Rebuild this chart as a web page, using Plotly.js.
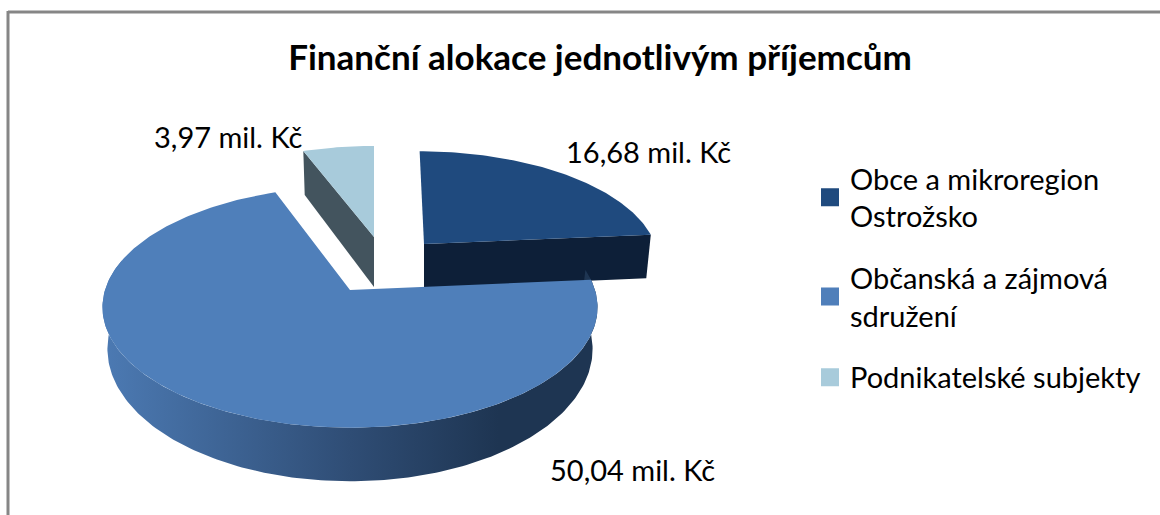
<!DOCTYPE html>
<html><head><meta charset="utf-8">
<script src="https://cdn.plot.ly/plotly-3.0.1.min.js"></script>
<style>html,body{margin:0;padding:0;background:#fff;overflow:hidden}</style>
</head><body><div id="chart" style="width:1160px;height:515px"></div>
<script>
const categories = ['Obce a mikroregion<br>Ostrožsko', 'Občanská a zájmová<br>sdružení', 'Podnikatelské subjekty'];
const values = [16.68, 50.04, 3.97];
const valueLabels = ['16,68 mil. Kč', '50,04 mil. Kč', '3,97 mil. Kč'];
const faceColors = ['#1f4a7e', '#4f7fba', '#a8cbdb'];
const FONT = 'Lato, Carlito, Calibri, sans-serif';

const total = values.reduce((a, b) => a + b, 0);
const edges = [0];
values.forEach((v, i) => edges.push(edges[i] + v / total * 360));

const K = 0.143;
const geo = [
  {cx: 424, cy: 244, rx: 231, ry: 106, shear: -5, d: 44, ryf: 1},
  {cx: 350, cy: 290, rx: 245, ry: 118, shear: 0, d: 40, ryf: 1.05},
  {cx: 374, cy: 237, rx: 232, ry: 104, shear: 0, d: 50, ryf: 1}
];
function topRim(g, deg) {
  const t = deg * Math.PI / 180, u = Math.sin(t), v = Math.cos(t), s = 1 / (1 + K * v);
  return [g.cx + g.rx * u * s + g.shear * v * s, g.cy - g.ry * v * s];
}
function bottomRim(g, deg) {
  const t = deg * Math.PI / 180, u = Math.sin(t), v = Math.cos(t), s = 1 / (1 + K * v);
  return [g.cx + g.rx * 0.98 * u * s + g.shear * v * s, g.cy - g.ry * g.ryf * v * s + g.d * s];
}
function arc(fn, g, a, b) {
  const pts = [], n = Math.max(2, Math.ceil(Math.abs(b - a)));
  for (let i = 0; i <= n; i++) pts.push(fn(g, a + (b - a) * i / n));
  return pts;
}
function poly(pts, color, extra) {
  const closed = pts.concat([pts[0]]);
  return Object.assign({
    type: 'scatter', mode: 'lines', x: closed.map(p => p[0]), y: closed.map(p => p[1]),
    fill: 'toself', fillcolor: color, line: {width: 0}, hoverinfo: 'skip', showlegend: false
  }, extra || {});
}
function face(i) {
  const g = geo[i];
  return poly([[g.cx, g.cy]].concat(arc(topRim, g, edges[i], edges[i + 1])), faceColors[i]);
}
function apexBottom(g) { return [g.cx, g.cy + g.d]; }

const traces = [];
const g0 = geo[0];
traces.push(poly([[g0.cx, g0.cy], topRim(g0, edges[1]), bottomRim(g0, edges[1]), apexBottom(g0)], '#0d1f38'));
traces.push(face(0));
const g2 = geo[2];
traces.push(poly([[g2.cx, g2.cy], topRim(g2, edges[2]), bottomRim(g2, edges[2]), apexBottom(g2)], '#43545e'));
traces.push(face(2));
const g1 = geo[1];
traces.push(poly(arc(topRim, g1, 80, 285).concat(arc(bottomRim, g1, 285, 80)), '#2f4d75', {
  fillgradient: {type: 'horizontal', colorscale: [[0, '#4c7ab3'], [0.5, '#2f4d75'], [0.8, '#1e3552'], [1, '#1e3552']]}
}));
traces.push(face(1));
categories.forEach((c, i) => traces.push({
  type: 'scatter', mode: 'markers', x: [null], y: [null], name: c, legendgroup: 'g' + i,
  marker: {symbol: 'square', size: 16, color: faceColors[i], line: {width: 2, color: faceColors[i]}}, hoverinfo: 'skip'
}));

const layout = {
  width: 1160, height: 515, margin: {l: 0, r: 0, t: 0, b: 0},
  paper_bgcolor: '#fff', plot_bgcolor: '#fff',
  title: {text: '<b>Finanční alokace jednotlivým příjemcům</b>', x: 600 / 1160, xanchor: 'center',
    y: 1 - 58 / 515, yanchor: 'middle', font: {family: FONT, size: 35, color: '#000'}},
  xaxis: {range: [0, 1160], visible: false, fixedrange: true},
  yaxis: {range: [515, 0], visible: false, fixedrange: true},
  legend: {x: 810 / 1160, xanchor: 'left', y: 1 - 153 / 515, yanchor: 'top', tracegroupgap: 21,
    font: {family: FONT, size: 29, color: '#000'}, bgcolor: 'rgba(0,0,0,0)', itemclick: false, itemdoubleclick: false},
  annotations: [
    {x: 648, y: 151, text: valueLabels[0]},
    {x: 632, y: 469, text: valueLabels[1]},
    {x: 228, y: 136, text: valueLabels[2]}
  ].map(a => Object.assign(a, {xref: 'x', yref: 'y', showarrow: false, font: {family: FONT, size: 29, color: '#000'}})),
  shapes: [
    {type: 'line', xref: 'x', yref: 'y', x0: 8, y0: 12, x1: 1160, y1: 12, line: {color: '#868686', width: 3}},
    {type: 'line', xref: 'x', yref: 'y', x0: 8, y0: 11, x1: 8, y1: 515, line: {color: '#868686', width: 3}}
  ]
};
Plotly.newPlot('chart', traces, layout, {displayModeBar: false});
</script></body></html>
